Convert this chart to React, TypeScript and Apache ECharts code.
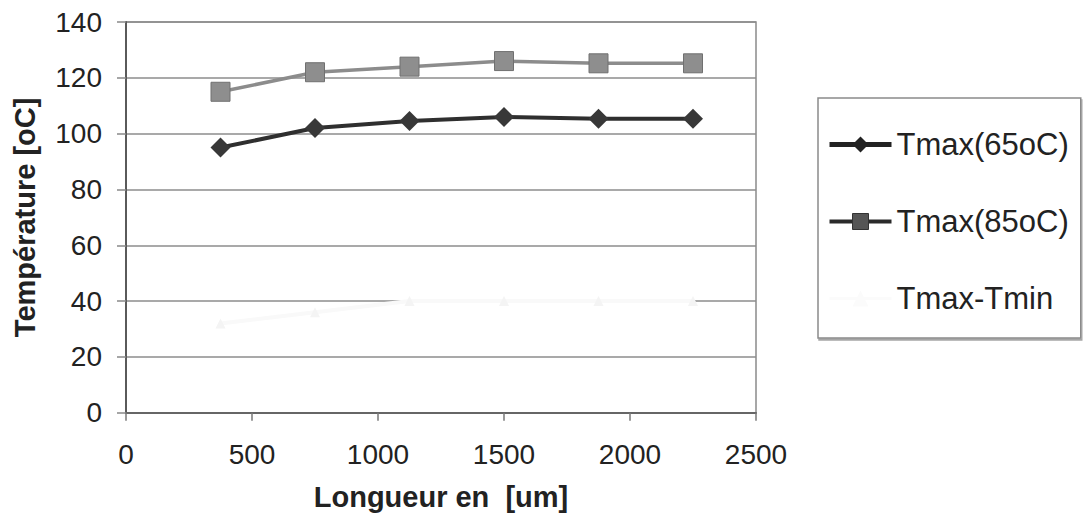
import React, { useEffect, useRef } from "react";
import * as echarts from "echarts";

const xValues = [375, 750, 1125, 1500, 1875, 2250];
const tmax65 = [95, 102, 104.5, 106, 105.3, 105.3];
const tmax85 = [115, 122, 124, 126, 125.2, 125.2];
const tmaxMinusTmin = [32, 36, 40, 40, 40, 40];
const seriesNames = ["Tmax(65oC)", "Tmax(85oC)", "Tmax-Tmin"];
const xTitle = "Longueur en  [um]";
const yTitle = "Température [oC]";

const FONT = '"Liberation Sans", Arial, Helvetica, sans-serif';

function pairs(ys: number[]) {
  return xValues.map((x, i) => [x, ys[i]]);
}

export default function App() {
  const ref = useRef<HTMLDivElement>(null);
  useEffect(() => {
    if (!ref.current) return;
    const chart = echarts.init(ref.current, undefined, { renderer: "svg" });
    chart.setOption({
      animation: false,
      backgroundColor: "#ffffff",
      textStyle: { fontFamily: FONT },
      grid: {
        left: 126,
        right: 327,
        top: 22,
        bottom: 108.3,
        containLabel: false,
        outerBoundsMode: "none",
        show: true,
        borderColor: "#8a8a8a",
        borderWidth: 1.5,
        backgroundColor: "transparent",
      },
      xAxis: {
        type: "value",
        min: 0,
        max: 2500,
        interval: 500,
        name: xTitle,
        nameLocation: "middle",
        nameGap: 70,
        nameTextStyle: { fontFamily: FONT, fontSize: 29, fontWeight: "bold", color: "#222" },
        axisLine: { show: true, onZero: false, lineStyle: { color: "#666", width: 2 } },
        axisTick: { show: true, length: 8, lineStyle: { color: "#777", width: 1.5 } },
        axisLabel: {
          fontFamily: FONT,
          fontSize: 28,
          color: "#222",
          margin: 28,
          formatter: (v: number) => String(v),
        },
        splitLine: { show: false },
      },
      yAxis: {
        type: "value",
        min: 0,
        max: 140,
        interval: 20,
        name: yTitle,
        nameLocation: "middle",
        nameGap: 87,
        nameRotate: 90,
        nameTextStyle: { fontFamily: FONT, fontSize: 29, fontWeight: "bold", color: "#222" },
        axisLine: { show: true, lineStyle: { color: "#5a5a5a", width: 2 } },
        axisTick: { show: true, length: 9, lineStyle: { color: "#888", width: 1.5 } },
        axisLabel: {
          fontFamily: FONT,
          fontSize: 28,
          color: "#222",
          margin: 24,
          formatter: (v: number) => String(v),
        },
        splitLine: { show: true, lineStyle: { color: "#8c8c8c", width: 1.5 } },
      },
      legend: {
        orient: "vertical",
        left: 818,
        top: 98,
        padding: [31, 12, 24, 9],
        itemWidth: 62,
        itemHeight: 20,
        itemGap: 46,
        itemTextGap: 7,
        backgroundColor: "#ffffff",
        borderColor: "#8a8a8a",
        borderWidth: 1.5,
        shadowColor: "rgba(0,0,0,0.35)",
        shadowOffsetX: 1,
        shadowOffsetY: 2,
        shadowBlur: 1,
        textStyle: { fontFamily: FONT, fontSize: 31, lineHeight: 31, color: "#222" },
        data: [
          { name: seriesNames[0], itemStyle: { color: "#222" }, lineStyle: { color: "#222", width: 5 } },
          { name: seriesNames[1], itemStyle: { color: "#555", borderColor: "#333", borderWidth: 1 }, lineStyle: { color: "#2a2a2a", width: 4 } },
          { name: seriesNames[2], itemStyle: { color: "#fbfbfb" }, lineStyle: { color: "#fbfbfb", width: 3 } },
        ],
      },
      series: [
        {
          name: seriesNames[2],
          type: "line",
          data: pairs(tmaxMinusTmin),
          symbol: "triangle",
          symbolSize: 10,
          lineStyle: { color: "#f9f9f9", width: 4 },
          itemStyle: { color: "#f4f4f4" },
          z: 2,
        },
        {
          name: seriesNames[0],
          type: "line",
          data: pairs(tmax65),
          symbol: "diamond",
          symbolSize: 20,
          lineStyle: { color: "#2f2f2f", width: 4 },
          itemStyle: { color: "#383838" },
          z: 3,
        },
        {
          name: seriesNames[1],
          type: "line",
          data: pairs(tmax85),
          symbol: "rect",
          symbolSize: 19,
          lineStyle: { color: "#8c8c8c", width: 3.5 },
          itemStyle: { color: "#8e8e8e", borderColor: "#707070", borderWidth: 1 },
          z: 3,
        },
      ],
    });
    return () => chart.dispose();
  }, []);
  return (
    <div
      ref={ref}
      style={{ position: "absolute", left: 0, top: 0, width: 1083, height: 521 }}
    />
  );
}
